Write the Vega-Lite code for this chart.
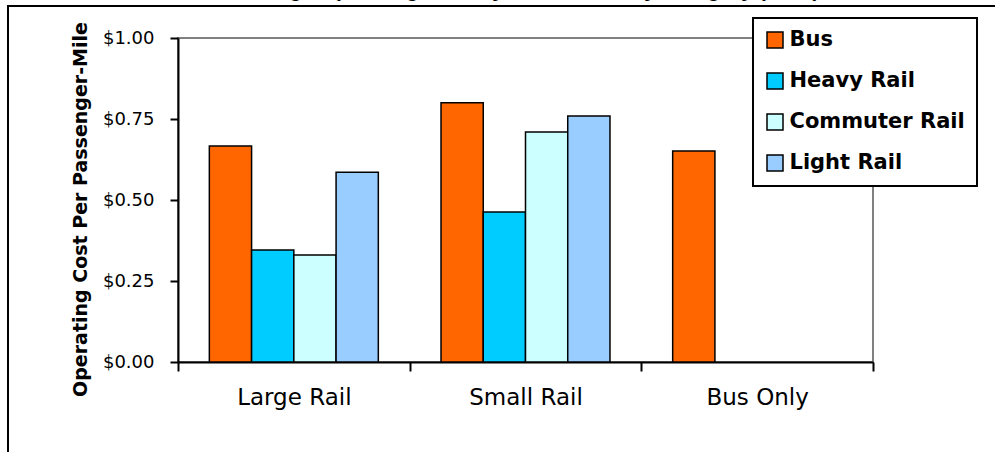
{
  "$schema": "https://vega.github.io/schema/vega-lite/v6.json",
  "width": 695,
  "height": 324,
  "autosize": {"type": "none"},
  "padding": {"left": 178, "top": 38, "right": 122, "bottom": 90},
  "background": "white",
  "title": {
    "text": "Average Operating Cost By Mode And City Category (2003)",
    "font": "Liberation Sans",
    "fontSize": 21,
    "fontWeight": "bold",
    "color": "black",
    "anchor": "middle",
    "baseline": "bottom",
    "offset": 0,
    "dy": 17
  },
  "data": {
    "values": [
      {"category": "Large Rail", "mode": "Bus", "cost": 0.667},
      {"category": "Large Rail", "mode": "Heavy Rail", "cost": 0.346},
      {"category": "Large Rail", "mode": "Commuter Rail", "cost": 0.330},
      {"category": "Large Rail", "mode": "Light Rail", "cost": 0.586},
      {"category": "Small Rail", "mode": "Bus", "cost": 0.800},
      {"category": "Small Rail", "mode": "Heavy Rail", "cost": 0.463},
      {"category": "Small Rail", "mode": "Commuter Rail", "cost": 0.710},
      {"category": "Small Rail", "mode": "Light Rail", "cost": 0.759},
      {"category": "Bus Only", "mode": "Bus", "cost": 0.651}
    ]
  },
  "mark": {"type": "bar", "stroke": "black", "strokeWidth": 1.5},
  "encoding": {
    "x": {
      "field": "category",
      "type": "nominal",
      "sort": ["Large Rail", "Small Rail", "Bus Only"],
      "scale": {"paddingInner": 0, "paddingOuter": 0},
      "axis": {
        "title": null,
        "labelAngle": 0,
        "labelFont": "DejaVu Sans",
        "labelFontSize": 23,
        "labelColor": "black",
        "labelPadding": 15,
        "domainColor": "black",
        "domainWidth": 2,
        "tickColor": "black",
        "tickWidth": 2,
        "tickSize": 9,
        "tickBand": "extent"
      }
    },
    "xOffset": {
      "field": "mode",
      "type": "nominal",
      "sort": ["Bus", "Heavy Rail", "Commuter Rail", "Light Rail"],
      "scale": {"domain": ["Bus", "Heavy Rail", "Commuter Rail", "Light Rail"], "paddingInner": 0, "paddingOuter": 0.742}
    },
    "y": {
      "field": "cost",
      "type": "quantitative",
      "scale": {"domain": [0, 1], "nice": false},
      "axis": {
        "title": "Operating Cost Per Passenger-Mile",
        "titleFont": "DejaVu Sans",
        "titleFontSize": 19,
        "titleFontWeight": "bold",
        "titleColor": "black",
        "titlePadding": 12,
        "titleY": 171,
        "values": [0, 0.25, 0.5, 0.75, 1],
        "format": "$.2f",
        "labelFont": "DejaVu Sans",
        "labelFontSize": 18,
        "labelColor": "black",
        "labelPadding": 16,
        "grid": false,
        "domainColor": "black",
        "domainWidth": 2,
        "tickColor": "black",
        "tickWidth": 2,
        "tickSize": 8
      }
    },
    "color": {
      "field": "mode",
      "type": "nominal",
      "sort": ["Bus", "Heavy Rail", "Commuter Rail", "Light Rail"],
      "scale": {
        "domain": ["Bus", "Heavy Rail", "Commuter Rail", "Light Rail"],
        "range": ["#FF6600", "#00CCFF", "#CCFFFF", "#99CCFF"]
      },
      "legend": {
        "title": null,
        "orient": "none",
        "legendX": 575,
        "legendY": -20,
        "fillColor": "white",
        "strokeColor": "black",
        "padding": 11.5,
        "symbolType": "square",
        "symbolSize": 256,
        "symbolStrokeColor": "black",
        "symbolStrokeWidth": 1.5,
        "symbolOpacity": 1,
        "labelFont": "DejaVu Sans",
        "labelFontSize": 21,
        "labelFontWeight": "bold",
        "labelColor": "black",
        "labelLimit": 300,
        "labelOffset": 4,
        "rowPadding": 18
      }
    },
    "opacity": {
      "datum": "chart frame",
      "type": "nominal",
      "scale": {"range": [1]},
      "legend": {
        "title": null,
        "orient": "none",
        "legendX": -170,
        "legendY": -32,
        "strokeColor": "black",
        "padding": 600,
        "symbolOpacity": 0,
        "symbolSize": 0,
        "labelExpr": "''",
        "labelOpacity": 0,
        "labelFontSize": 1
      }
    }
  },
  "config": {
    "view": {"stroke": "#808080", "strokeWidth": 2},
    "legend": {"strokeWidth": 2}
  }
}
